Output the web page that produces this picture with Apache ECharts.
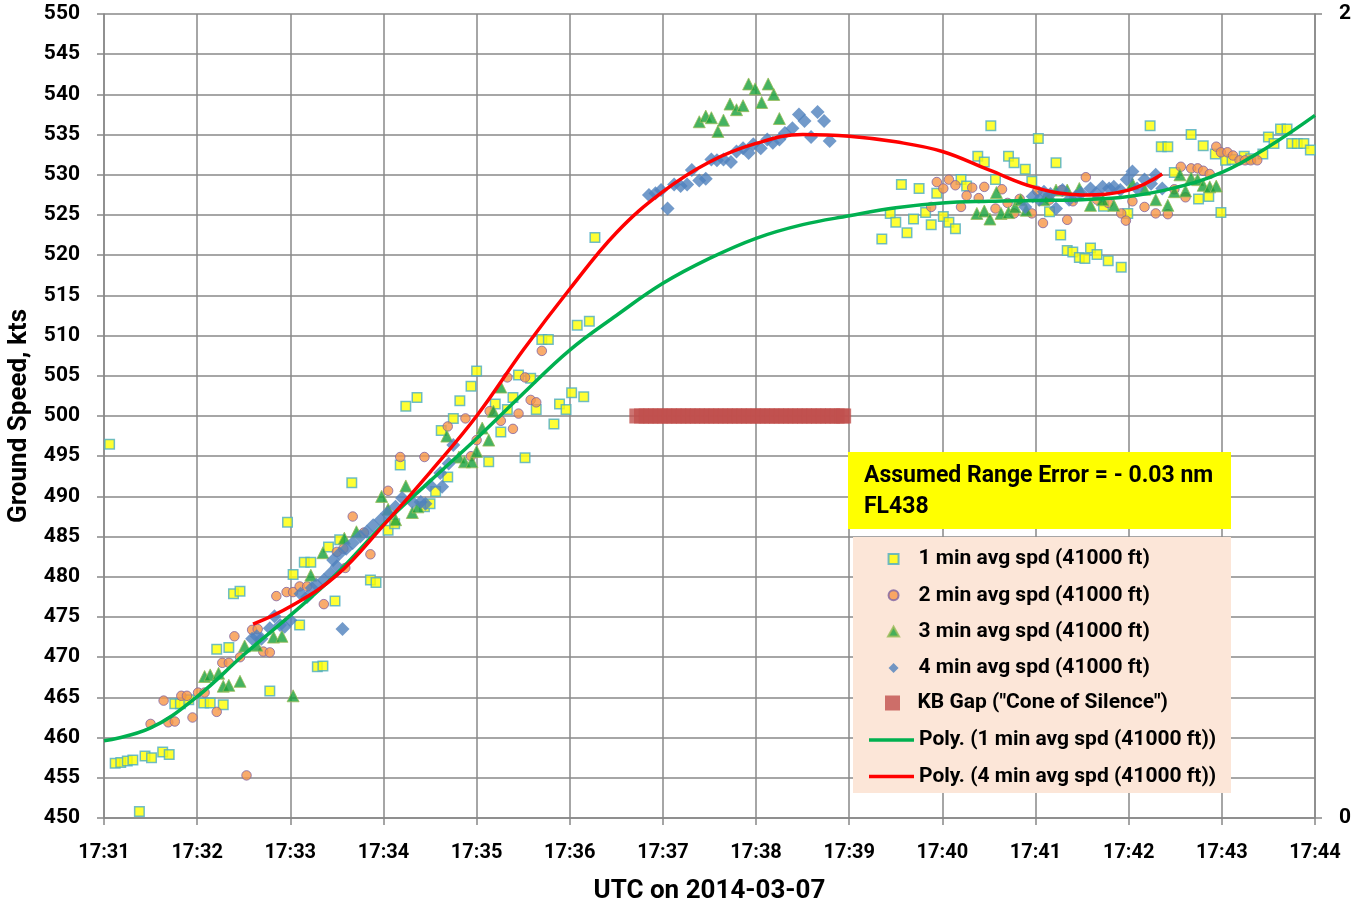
<!DOCTYPE html>
<html>
<head>
<meta charset="utf-8">
<script src="https://cdn.jsdelivr.net/npm/echarts@6/dist/echarts.min.js"></script>
<style>
html,body{margin:0;padding:0;background:#fff;}
#chart{width:1371px;height:907px;}
</style>
</head>
<body>
<div id="chart"></div>
<script>
// x values: minutes after 17:00 UTC on 2014-03-07; y values: ground speed (kts)
var xTickMin = 31, xTickMax = 44;
var yTickMin = 450, yTickMax = 550;

var avg1 = [[31.06,496.5],[31.12,456.8],[31.18,456.9],[31.25,457.1],[31.31,457.2],[31.38,450.8],[31.44,457.7],[31.51,457.5],[31.63,458.2],[31.70,457.9],[31.76,464.2],[31.82,464.2],[31.91,464.7],[32.07,464.3],[32.14,464.3],[32.28,464.1],[32.21,471.0],[32.34,471.2],[32.39,477.9],[32.46,478.2],[32.78,465.8],[32.97,486.8],[33.03,480.3],[33.10,474.0],[33.15,481.8],[33.22,481.8],[33.29,468.8],[33.35,468.9],[33.41,483.7],[33.53,484.6],[33.48,477.0],[33.66,491.7],[33.86,479.6],[33.92,479.3],[34.05,485.8],[34.12,486.6],[34.18,493.9],[34.24,501.2],[34.36,502.3],[34.44,488.7],[34.50,489.1],[34.56,490.6],[34.62,498.2],[34.69,492.4],[34.75,499.7],[34.82,501.9],[34.94,503.7],[35.00,505.6],[35.13,494.3],[35.20,501.5],[35.26,498.0],[35.33,500.8],[35.39,502.3],[35.45,505.1],[35.52,494.8],[35.58,504.7],[35.64,500.8],[35.70,509.5],[35.77,509.5],[35.83,499.0],[35.89,501.5],[35.96,500.8],[36.02,502.9],[36.08,511.3],[36.15,502.4],[36.21,511.8],[36.27,522.2],
[39.35,522.0],[39.44,525.2],[39.50,524.1],[39.56,528.8],[39.62,522.8],[39.69,524.5],[39.75,528.3],[39.82,525.3],[39.88,523.8],[39.94,527.7],[40.01,524.8],[40.07,524.1],[40.14,523.3],[40.20,529.4],[40.26,528.6],[40.38,532.3],[40.45,531.6],[40.52,536.1],[40.57,529.4],[40.71,532.3],[40.77,531.5],[40.89,530.7],[40.96,529.2],[41.03,534.5],[41.15,525.4],[41.22,531.5],[41.27,522.5],[41.34,520.6],[41.40,520.4],[41.47,519.7],[41.53,519.6],[41.59,520.9],[41.66,520.1],[41.73,526.1],[41.78,519.3],[41.92,518.5],[41.99,525.2],[42.23,536.1],[42.35,533.5],[42.42,533.5],[42.49,530.3],[42.67,535.0],[42.75,527.0],[42.80,533.6],[42.86,527.3],[42.93,532.6],[42.99,525.3],[43.04,531.8],[43.11,531.9],[43.24,532.3],[43.31,532.0],[43.44,532.6],[43.50,534.7],[43.56,533.9],[43.63,535.7],[43.70,535.7],[43.75,533.9],[43.81,533.9],[43.88,533.9],[43.95,533.1]];

var avg2 = [[31.50,461.7],[31.64,464.6],[31.69,461.9],[31.76,462.0],[31.83,465.2],[31.89,465.2],[31.95,462.5],[32.01,465.6],[32.08,465.6],[32.21,463.2],[32.27,469.3],[32.34,469.3],[32.40,472.6],[32.46,470.0],[32.53,455.3],[32.59,473.4],[32.65,473.5],[32.71,470.7],[32.78,470.6],[32.85,477.6],[32.96,478.1],[33.03,478.1],[33.10,478.8],[33.18,478.8],[33.36,476.6],[33.50,483.1],[33.57,483.5],[33.59,481.1],[33.67,487.5],[33.79,485.5],[33.86,482.8],[34.05,490.7],[34.18,494.9],[34.44,494.9],[34.69,498.7],[34.88,499.7],[34.94,495.0],[35.00,497.0],[35.14,500.6],[35.26,499.4],[35.33,504.8],[35.39,498.4],[35.45,500.3],[35.52,504.8],[35.58,502.0],[35.64,501.7],[35.70,508.1],
[39.94,529.1],[40.01,528.3],[40.07,529.4],[40.14,528.7],[39.88,526.0],[40.20,526.0],[40.26,527.4],[40.32,528.4],[40.39,527.1],[40.45,528.5],[40.57,525.8],[40.64,528.2],[40.70,526.5],[40.77,525.2],[40.83,527.0],[40.96,525.2],[41.02,528.0],[41.08,524.0],[41.15,526.9],[41.28,528.1],[41.34,524.4],[41.40,526.7],[41.54,529.7],[41.66,526.9],[41.78,526.5],[41.92,525.2],[41.97,524.3],[42.04,526.7],[42.17,526.0],[42.29,525.2],[42.42,525.1],[42.49,528.2],[42.56,531.0],[42.61,527.2],[42.67,530.8],[42.74,530.8],[42.80,530.5],[42.87,530.1],[42.94,533.5],[42.99,532.8],[43.06,532.8],[43.12,532.4],[43.19,531.8],[43.25,531.8],[43.31,531.8],[43.38,531.8]];

var avg3 = [[32.08,467.6],[32.14,467.8],[32.23,468.0],[32.28,466.4],[32.34,466.5],[32.46,467.0],[32.51,471.4],[32.64,471.5],[32.82,472.5],[32.91,472.6],[33.03,465.2],[33.22,480.2],[33.35,483.0],[33.58,484.8],[33.71,485.6],[33.98,490.0],[34.05,488.4],[34.13,487.1],[34.24,491.3],[34.31,488.0],[34.37,488.7],[34.68,497.5],[34.81,494.9],[34.87,494.3],[34.95,494.3],[35.00,495.6],[35.06,498.5],[35.13,497.0],[35.18,500.6],[35.26,503.6],
[37.39,536.6],[37.46,537.3],[37.52,537.1],[37.59,535.4],[37.65,536.8],[37.72,538.8],[37.79,538.1],[37.86,538.6],[37.92,541.3],[37.99,540.7],[38.06,539.0],[38.13,541.3],[38.19,540.0],[38.25,537.0],
[40.37,525.2],[40.45,525.5],[40.51,524.5],[40.58,527.8],[40.63,525.2],[40.71,525.3],[40.78,526.0],[40.84,526.9],[40.90,525.6],[41.09,526.9],[41.14,527.5],[41.22,528.1],[41.34,528.1],[41.47,528.3],[41.59,526.2],[41.72,526.9],[41.84,526.2],[42.04,528.9],[42.17,528.2],[42.29,526.9],[42.42,526.2],[42.49,527.9],[42.55,530.0],[42.61,528.0],[42.67,529.6],[42.74,529.4],[42.80,528.7],[42.87,528.5],[42.94,528.6]];

var avg4 = [[32.59,472.3],[32.64,472.6],[32.69,472.3],[32.78,473.6],[32.83,475.1],[32.89,474.0],[32.94,473.8],[33.00,474.6],[33.11,477.9],[33.18,477.5],[33.23,478.6],[33.28,479.0],[33.36,479.6],[33.43,480.4],[33.46,482.1],[33.50,481.3],[33.53,482.9],[33.56,473.5],[33.60,483.5],[33.67,484.2],[33.75,485.0],[33.82,485.6],[33.89,486.4],[33.97,487.1],[34.04,487.9],[34.13,488.7],[34.20,489.8],[34.31,489.3],[34.40,489.3],[34.45,489.1],[34.50,491.4],[34.61,492.9],[34.63,491.2],[34.70,494.1],[34.75,496.4],
[36.85,527.5],[36.92,527.7],[36.98,528.1],[37.05,525.8],[37.12,528.8],[37.19,528.6],[37.26,528.8],[37.31,530.6],[37.39,529.3],[37.46,529.5],[37.52,531.9],[37.58,531.8],[37.65,531.9],[37.73,531.6],[37.79,532.9],[37.86,533.3],[37.92,532.7],[37.97,533.8],[38.05,533.3],[38.12,534.4],[38.18,534.0],[38.25,534.4],[38.31,535.2],[38.39,535.8],[38.46,537.5],[38.52,536.7],[38.59,534.7],[38.66,537.8],[38.73,536.7],[38.79,534.2],
[40.89,526.0],[40.97,527.3],[41.04,526.9],[41.09,527.9],[41.16,527.6],[41.22,525.8],[41.29,528.1],[41.36,526.9],[41.43,527.3],[41.49,527.7],[41.59,528.3],[41.65,527.7],[41.72,528.5],[41.79,528.3],[41.84,528.5],[41.91,528.1],[41.98,529.4],[42.04,530.4],[42.09,528.3],[42.17,529.4],[42.24,528.9],[42.29,530.0],[42.36,528.3]];

var kbGapX = [36.72,36.77,36.82,36.87,36.92,36.97,37.02,37.07,37.12,37.17,37.22,37.27,37.32,37.37,37.42,37.47,37.52,37.57,37.62,37.67,37.72,37.77,37.82,37.87,37.92,37.97,38.02,38.07,38.12,38.17,38.22,38.27,38.32,38.37,38.42,38.47,38.52,38.57,38.62,38.67,38.72,38.77,38.82,38.87,38.92,38.94];
var kbGapSpeed = 500;

var poly1 = [[31.0,459.6],[31.5,461.2],[32.0,465.1],[32.5,470.3],[33.0,475.2],[33.5,480.4],[34.0,486.5],[34.5,491.9],[35.0,497.2],[35.5,502.8],[36.0,508.2],[36.5,512.5],[37.0,516.5],[37.5,519.6],[38.0,522.1],[38.5,523.8],[39.0,524.9],[39.5,525.9],[40.0,526.5],[40.5,526.7],[41.0,526.8],[41.5,526.9],[42.0,527.3],[42.5,528.4],[43.0,530.3],[43.5,533.5],[44.0,537.4]];

var poly4 = [[32.6,474.1],[33.0,476.3],[33.5,480.2],[34.0,486.4],[34.5,493.0],[35.0,500.0],[35.5,508.2],[36.0,515.8],[36.5,522.8],[37.0,527.9],[37.5,531.6],[38.0,533.9],[38.5,535.0],[39.0,534.8],[39.5,534.1],[40.0,532.9],[40.5,530.6],[41.0,528.4],[41.5,527.5],[42.0,528.1],[42.36,530.1]];

var names = ['1 min avg spd (41000 ft)','2 min avg spd (41000 ft)','3 min avg spd (41000 ft)','4 min avg spd (41000 ft)','KB Gap ("Cone of Silence")','Poly. (1 min avg spd (41000 ft))','Poly. (4 min avg spd (41000 ft))'];
var noteLines = ['Assumed Range Error = - 0.03 nm', 'FL438'];

var FONT = 'Roboto';
var kbGap = kbGapX.map(function(x){return [x, kbGapSpeed];});

var chart = echarts.init(document.getElementById('chart'), null, {renderer:'canvas'});
var legendText = {fontFamily:FONT, fontWeight:'bold', fontSize:21, color:'#000', lineHeight:24};
var axisCol = '#888';
var option = {
  animation:false,
  backgroundColor:'#fff',
  grid:{left:104, right:56, top:14, bottom:89, outerBoundsMode:'none', containLabel:false},
  xAxis:{
    type:'value', min:xTickMin, max:xTickMax, interval:1,
    axisLine:{show:true, lineStyle:{color:axisCol, width:1.5}},
    axisTick:{show:true, length:7, lineStyle:{color:axisCol, width:1.5}},
    splitLine:{show:true, lineStyle:{color:axisCol, width:1.5}},
    axisLabel:{formatter:function(v){return '17:'+v;}, fontFamily:FONT, fontWeight:'bold', fontSize:20, color:'#000', margin:25},
    name:'UTC on 2014-03-07', nameLocation:'middle', nameGap:60,
    nameTextStyle:{fontFamily:FONT, fontWeight:'bold', fontSize:26, color:'#000'}
  },
  yAxis:[{
    type:'value', min:yTickMin, max:yTickMax, interval:5,
    axisLine:{show:true, lineStyle:{color:axisCol, width:1.5}},
    axisTick:{show:true, length:7, lineStyle:{color:axisCol, width:1.5}},
    splitLine:{show:true, lineStyle:{color:axisCol, width:1.5}},
    axisLabel:{fontFamily:FONT, fontWeight:'bold', fontSize:21, color:'#000', margin:24},
    name:'Ground Speed, kts', nameLocation:'middle', nameGap:69, nameRotate:90,
    nameTextStyle:{fontFamily:FONT, fontWeight:'bold', fontSize:26, color:'#000'}
  },{
    type:'value', min:0, max:2, interval:2, position:'right',
    axisLine:{show:true, lineStyle:{color:axisCol, width:1.5}},
    axisTick:{show:true, length:7, lineStyle:{color:axisCol, width:1.5}},
    splitLine:{show:false},
    axisLabel:{fontFamily:FONT, fontWeight:'bold', fontSize:21, color:'#000', margin:24}
  }],
  legend:[{
    orient:'vertical', left:887, top:547, padding:0, itemWidth:40, itemHeight:10, itemGap:12.3,
    textStyle:legendText, selectedMode:false, symbolKeepAspect:true,
    data:[
      {name:names[0], icon:'path://M0,0L10,0L10,10L0,10Z'},
      {name:names[1], icon:'path://M5,0A5,5,0,1,1,5,10A5,5,0,1,1,5,0Z'},
      {name:names[2], icon:'path://M5,0L10,9L0,9Z'},
      {name:names[3], icon:'path://M5,0L10,5L5,10L0,5Z'}
    ]
  },{
    orient:'vertical', left:885, top:691, padding:0, itemWidth:40, itemHeight:15,
    textStyle:legendText, selectedMode:false, symbolKeepAspect:true,
    data:[{name:names[4], icon:'path://M0,0L10,0L10,10L0,10Z'}]
  },{
    orient:'vertical', left:869, top:728, padding:0, itemWidth:45, itemHeight:3.5, itemGap:12.5,
    textStyle:legendText, selectedMode:false,
    data:[{name:names[5], icon:'rect'}, {name:names[6], icon:'rect'}]
  }],
  graphic:[
    {type:'rect', left:853, top:537, z:3, shape:{width:378, height:256}, style:{fill:'#FCE6D8'}},
    {type:'rect', left:848, top:452, z:3, shape:{width:383, height:77}, style:{fill:'#FFFF00'}},
    {type:'text', left:864, top:461, z:4, style:{text:noteLines.join('\n'), fontFamily:FONT, fontWeight:'bold', fontSize:23, lineHeight:31, fill:'#000'}}
  ],
  series:[
    {name:names[0], type:'scatter', data:avg1, symbol:'rect', symbolSize:9.5,
     itemStyle:{color:'#FFFF00', borderColor:'#4BACC6', borderWidth:1.5}},
    {name:names[1], type:'scatter', data:avg2, symbol:'circle', symbolSize:9.5,
     itemStyle:{color:'#F79646', borderColor:'#8064A2', borderWidth:1}},
    {name:names[2], type:'scatter', data:avg3, symbol:'triangle', symbolSize:12,
     itemStyle:{color:'#16A03A', borderColor:'#9BBB59', borderWidth:1}},
    {name:names[3], type:'scatter', data:avg4, symbol:'diamond', symbolSize:14,
     itemStyle:{color:'#4F81BD'}},
    {name:names[4], type:'scatter', data:kbGap, symbol:'rect', symbolSize:15,
     itemStyle:{color:'#C0504D'}},
    {name:names[5], type:'line', data:poly1, smooth:0.4, symbol:'none',
     lineStyle:{color:'#00B050', width:3.5}, itemStyle:{color:'#00B050'}, z:5},
    {name:names[6], type:'line', data:poly4, smooth:0.4, symbol:'none',
     lineStyle:{color:'#FF0000', width:3.5}, itemStyle:{color:'#FF0000'}, z:5}
  ]
};
chart.setOption(option);
</script>
</body>
</html>
